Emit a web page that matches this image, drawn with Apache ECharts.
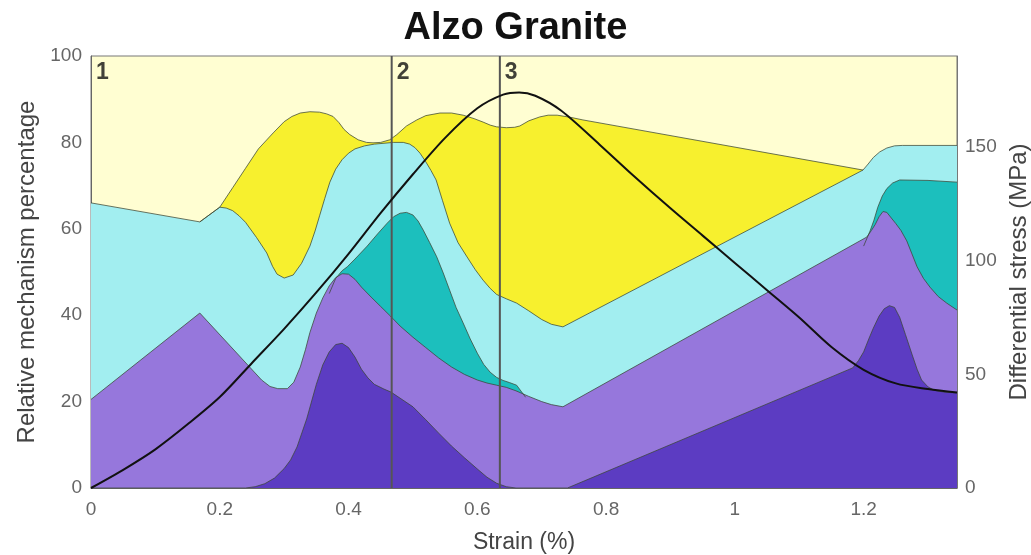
<!DOCTYPE html>
<html><head><meta charset="utf-8">
<script src="https://cdn.jsdelivr.net/npm/echarts@6/dist/echarts.min.js"></script>
<style>html,body{margin:0;padding:0;background:#fff}#c{width:1031px;height:555px}</style>
</head><body><div id="c"></div><script>
// Cumulative boundaries (relative mechanism %, stacked): [strain %, value]
const darkPurpleTop = [[0,0],[0.24,0],[0.255,0.3],[0.27,1],[0.285,2.3],[0.3,4.5],[0.31,6.5],[0.32,9.5],[0.335,16],[0.35,24],[0.36,28.5],[0.37,31.5],[0.38,33.2],[0.39,33.5],[0.4,32.5],[0.41,30.3],[0.42,27.5],[0.43,25.5],[0.44,24],[0.455,22.9],[0.466,22.2],[0.5,18.8],[0.52,15.8],[0.54,12.7],[0.56,9.7],[0.58,7],[0.6,4.4],[0.615,2.5],[0.63,1.1],[0.645,0.3],[0.66,0],[0.74,0],[1.183,27.8],[1.192,29.5],[1.2,31.5],[1.208,34.5],[1.215,37],[1.224,39.8],[1.232,41.5],[1.24,42.2],[1.248,41.8],[1.256,39.5],[1.265,35.5],[1.275,31],[1.283,27.5],[1.29,25],[1.3,23.4],[1.31,22.6],[1.325,22.2],[1.345,22]];
const purpleTop = [[0,20.5],[0.169,40.5],[0.265,25],[0.278,23.5],[0.29,23],[0.305,23],[0.315,24.5],[0.325,28],[0.333,32],[0.34,36],[0.35,40.5],[0.36,44],[0.37,46.8],[0.38,48.7],[0.39,49.6],[0.4,49.5],[0.41,48.3],[0.42,46.5],[0.435,44.2],[0.45,42],[0.465,39.8],[0.48,37.5],[0.5,34.9],[0.52,32.5],[0.54,30.1],[0.56,28],[0.58,26.3],[0.6,25],[0.615,24.3],[0.63,23.8],[0.645,23.3],[0.66,22.5],[0.68,21.2],[0.7,20],[0.715,19.3],[0.733,18.8],[1.205,58.1],[1.212,59.6],[1.218,61],[1.224,62.8],[1.23,64],[1.236,63.8],[1.243,62.5],[1.25,61.2],[1.258,59.6],[1.267,57.2],[1.275,54.2],[1.283,51.2],[1.293,48.5],[1.303,46.5],[1.316,44.3],[1.329,42.8],[1.345,41.2]];
const tealTopA = [[0.37,45],[0.38,48.5],[0.39,50.3],[0.398,51.2],[0.41,53],[0.429,56],[0.445,58.8],[0.46,61.3],[0.47,62.8],[0.48,63.6],[0.49,63.8],[0.5,63.2],[0.508,61.8],[0.516,59.7],[0.526,56.8],[0.537,53.5],[0.547,49.8],[0.557,45.8],[0.567,41.8],[0.578,38.2],[0.589,34.5],[0.6,31.2],[0.61,28.6],[0.62,26.8],[0.63,25.6],[0.64,24.9],[0.65,24.4],[0.661,23.8],[0.675,21]];
const tealTopB = [[1.2,56],[1.21,59.5],[1.216,62],[1.222,65],[1.229,67.6],[1.236,69.3],[1.245,70.6],[1.256,71.3],[1.3,71.2],[1.345,70.8]];
const cyanTop = [[0,66],[0.169,61.6],[0.2,65],[0.21,64.8],[0.22,64.2],[0.23,63],[0.24,61.5],[0.257,58],[0.273,54.4],[0.282,51.3],[0.289,49.5],[0.3,48.6],[0.314,49.3],[0.327,52],[0.34,56],[0.348,59.5],[0.355,63],[0.363,67],[0.371,70.8],[0.38,73.8],[0.39,76],[0.4,77.5],[0.41,78.5],[0.425,79.2],[0.44,79.6],[0.47,80],[0.485,80],[0.495,79.6],[0.503,78.8],[0.511,77.5],[0.52,75.5],[0.528,73.5],[0.536,71.3],[0.546,66.5],[0.557,61.3],[0.57,56.8],[0.584,53.5],[0.597,50.5],[0.609,48.1],[0.62,46.2],[0.63,44.8],[0.645,43.8],[0.661,42.8],[0.68,41],[0.7,39],[0.715,37.9],[0.733,37.3],[1.199,73.6],[1.207,75],[1.215,76.5],[1.225,77.8],[1.236,78.7],[1.248,79.2],[1.26,79.3],[1.345,79.3]];
const yellowTop = [[0.169,61.6],[0.2,65],[0.22,69.5],[0.24,74],[0.26,78.5],[0.283,82.2],[0.3,84.8],[0.312,86],[0.325,86.8],[0.34,87.1],[0.355,87],[0.366,86.6],[0.376,86],[0.385,84.6],[0.393,83],[0.402,81.8],[0.415,80.6],[0.428,80],[0.438,79.9],[0.45,80],[0.464,80.6],[0.475,81.8],[0.49,83.8],[0.506,85.2],[0.52,86.2],[0.542,86.8],[0.56,86.8],[0.578,86.3],[0.595,85.5],[0.609,84.7],[0.62,84],[0.63,83.6],[0.645,83.4],[0.658,83.5],[0.666,83.8],[0.68,85],[0.697,85.9],[0.71,86.3],[0.724,86.3],[0.745,85.8],[0.764,85.2],[1.199,73.6]];
// Differential stress (MPa), right axis
const stress = [[0,0],[0.05,8],[0.1,17],[0.15,28],[0.2,40],[0.25,55],[0.3,70],[0.35,86],[0.4,103],[0.45,121],[0.5,138],[0.55,154],[0.6,167],[0.64,173],[0.665,174],[0.69,172.5],[0.73,166],[0.79,151],[0.84,138],[0.9,123],[0.95,111],[1.0,99],[1.05,87],[1.1,75],[1.15,62],[1.2,52],[1.25,46],[1.3,43.5],[1.345,42]];
// Stage markers
const stageLines = [0.467, 0.635];
const stageLabels = [[0,100,'1'],[0.467,100,'2'],[0.635,100,'3']];

const FONT = 'Liberation Sans, Arial, sans-serif';
const edge = {color:'#3a4636', width:1, opacity:0.75};
function area(name, data, color){
  return {name, type:'line', data, smooth:false, symbol:'none',
    lineStyle: edge, areaStyle:{color, opacity:1, origin:'start'}, z:2, silent:true};
}
const series = [
  area('yellow', yellowTop, '#f7f02e'),
  area('cyan', cyanTop, '#a2eef0'),
  area('tealA', tealTopA, '#1cbfbd'),
  area('tealB', tealTopB, '#1cbfbd'),
  area('purple', purpleTop, '#9677dc'),
  area('darkPurple', darkPurpleTop, '#5c3cc2'),
];
stageLines.forEach((x,i)=>{
  series.push({type:'line', name:'stage'+i, data:[[x,0],[x,100]], symbol:'none', z:4,
    lineStyle:{color:'#555', width:2}, silent:true});
});
series.push({type:'line', name:'stress', yAxisIndex:1, data:stress, smooth:0.3, symbol:'none', z:5,
  lineStyle:{color:'#111', width:2}, silent:true});
series.push({type:'scatter', name:'labels', data:stageLabels, symbolSize:0, z:6,
  label:{show:true, formatter:p=>p.value[2], position:[5,5], fontSize:23, fontWeight:'bold', color:'#111', fontFamily:FONT}});

const chart = echarts.init(document.getElementById('c'));
chart.setOption({
  animation:false,
  title:{text:'Alzo Granite', left:'center', top:5, textStyle:{fontSize:38, fontWeight:'bold', color:'#111', fontFamily:FONT}},
  grid:{left:91, right:74, top:56, bottom:67, outerBoundsMode:'none', containLabel:false, show:true, borderColor:'#777', borderWidth:1, backgroundColor:'#fffed2'},
  xAxis:{type:'value', min:0, max:1.345, interval:0.2, name:'Strain (%)', nameLocation:'middle', nameGap:43,
    nameTextStyle:{fontSize:23, color:'#444', fontFamily:FONT},
    axisLine:{lineStyle:{color:'#666'}}, axisTick:{show:false}, splitLine:{show:false},
    axisLabel:{fontSize:19, color:'#666', margin:12, fontFamily:FONT, showMaxLabel:false}},
  yAxis:[
    {type:'value', min:0, max:100, interval:20, name:'Relative mechanism percentage', nameLocation:'middle', nameGap:50, nameRotate:90,
     nameTextStyle:{fontSize:24, color:'#444', fontFamily:FONT},
     axisLine:{show:true, lineStyle:{color:'#666'}}, axisTick:{show:false}, splitLine:{show:false},
     axisLabel:{fontSize:19, color:'#666', margin:9, fontFamily:FONT}},
    {type:'value', min:0, max:190, interval:50, position:'right', name:'Differential stress (MPa)', nameLocation:'middle', nameGap:47, nameRotate:90,
     nameTextStyle:{fontSize:24, color:'#444', fontFamily:FONT},
     axisLine:{show:true, lineStyle:{color:'#777'}}, axisTick:{show:false}, splitLine:{show:false},
     axisLabel:{fontSize:19, color:'#666', margin:8, fontFamily:FONT, showMaxLabel:false}}
  ],
  series
});
</script></body></html>
